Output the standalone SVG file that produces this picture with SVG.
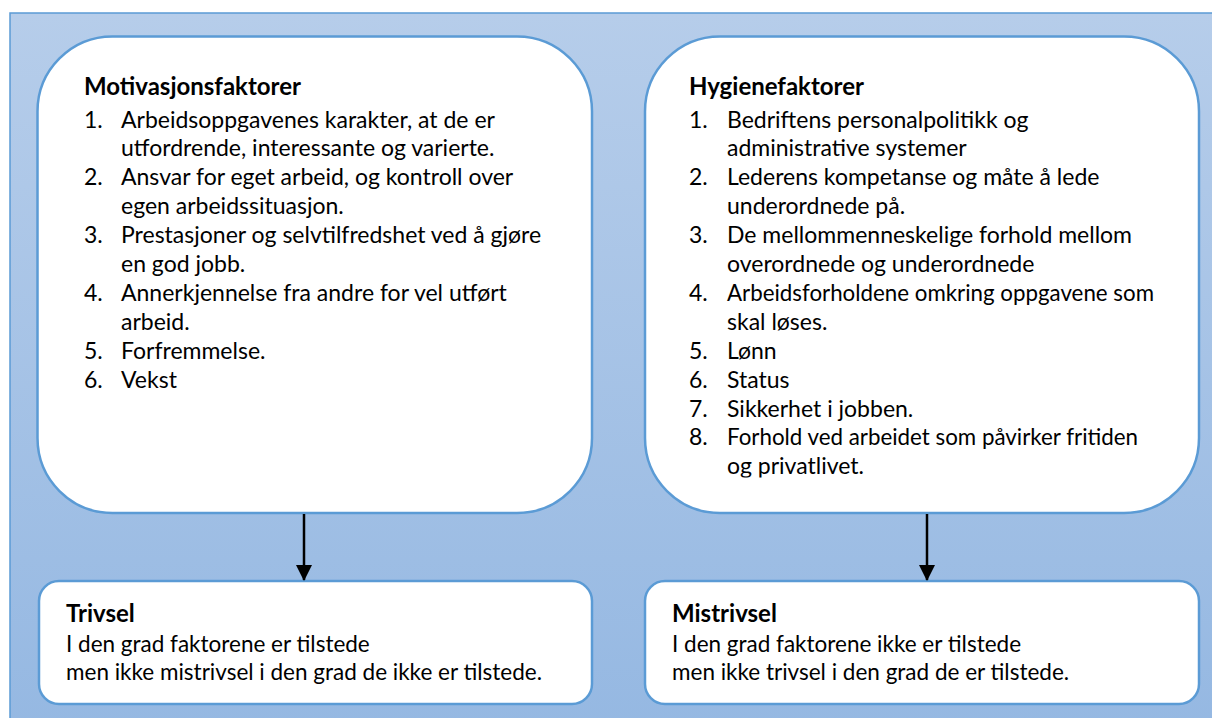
<svg xmlns="http://www.w3.org/2000/svg" width="1212" height="718" viewBox="0 0 1212 718">
  <defs>
    <linearGradient id="bgGrad" x1="0" y1="0" x2="0" y2="1">
      <stop offset="0" stop-color="#b6cdea"/>
      <stop offset="1" stop-color="#95b8e2"/>
    </linearGradient>
    <marker id="arrow" markerWidth="16" markerHeight="16" refX="15" refY="8" orient="auto" markerUnits="userSpaceOnUse">
      <path d="M0,0 L16,8 L0,16 Z" fill="#000"/>
    </marker>
    <clipPath id="rightClip">
      <rect x="645" y="36" width="554" height="441.5"/>
    </clipPath>
  </defs>
  <style>
    .box { fill: #ffffff; stroke: #5b9bd5; stroke-width: 2.5; }
    .t { font-family: Lato, "Open Sans", sans-serif; font-size: 23px; fill: #000; }
    .h { font-weight: bold; font-size: 24px; }
    .s { font-size: 22.5px; }
    .conn { stroke: #000; stroke-width: 2.5; fill: none; }
  </style>

  <!-- backdrop panel -->
  <rect x="10" y="13" width="1220" height="720" fill="url(#bgGrad)" stroke="#5b9bd5" stroke-width="1.5"/>

  <!-- motivation factors -->
  <g id="motivasjon">
    <rect class="box" x="37.5" y="36.5" width="554.5" height="476.5" rx="75" ry="75"/>
    <text class="t h" x="84" y="95">Motivasjonsfaktorer</text>
    <g class="t">
      <text x="84" y="127.5">1.</text><text x="121" y="127.5">Arbeidsoppgavenes karakter, at de er</text>
      <text x="121" y="156.4">utfordrende, interessante og varierte.</text>
      <text x="84" y="185.3">2.</text><text x="121" y="185.3">Ansvar for eget arbeid, og kontroll over</text>
      <text x="121" y="214.2">egen arbeidssituasjon.</text>
      <text x="84" y="243.1">3.</text><text x="121" y="243.1">Prestasjoner og selvtilfredshet ved å gjøre</text>
      <text x="121" y="272">en god jobb.</text>
      <text x="84" y="300.9">4.</text><text x="121" y="300.9">Annerkjennelse fra andre for vel utført</text>
      <text x="121" y="329.8">arbeid.</text>
      <text x="84" y="358.7">5.</text><text x="121" y="358.7">Forfremmelse.</text>
      <text x="84" y="387.6">6.</text><text x="121" y="387.6">Vekst</text>
    </g>
  </g>

  <!-- hygiene factors -->
  <g id="hygiene">
    <rect class="box" x="645" y="36.5" width="554" height="476.5" rx="75" ry="75"/>
    <g clip-path="url(#rightClip)">
      <text class="t h" x="689" y="95">Hygienefaktorer</text>
      <g class="t">
        <text x="689" y="127.5">1.</text><text x="727" y="127.5">Bedriftens personalpolitikk og</text>
        <text x="727" y="156.4">administrative systemer</text>
        <text x="689" y="185.3">2.</text><text x="727" y="185.3">Lederens kompetanse og måte å lede</text>
        <text x="727" y="214.2">underordnede på.</text>
        <text x="689" y="243.1">3.</text><text x="727" y="243.1">De mellommenneskelige forhold mellom</text>
        <text x="727" y="272">overordnede og underordnede</text>
        <text x="689" y="300.9">4.</text><text x="727" y="300.9" textLength="427" lengthAdjust="spacingAndGlyphs">Arbeidsforholdene omkring oppgavene som</text>
        <text x="727" y="329.8">skal løses.</text>
        <text x="689" y="358.7">5.</text><text x="727" y="358.7">Lønn</text>
        <text x="689" y="387.6">6.</text><text x="727" y="387.6">Status</text>
        <text x="689" y="416.5">7.</text><text x="727" y="416.5">Sikkerhet i jobben.</text>
        <text x="689" y="445.4">8.</text><text x="727" y="445.4" textLength="411" lengthAdjust="spacingAndGlyphs">Forhold ved arbeidet som påvirker fritiden</text>
        <text x="727" y="474.3">og privatlivet.</text>
      </g>
    </g>
  </g>

  <!-- outcome: well-being -->
  <g id="trivsel">
    <rect class="box" x="39" y="581" width="553" height="123" rx="20" ry="20"/>
    <text class="t h" x="66" y="622">Trivsel</text>
    <text class="t s" x="66" y="652">I den grad faktorene er tilstede</text>
    <text class="t s" x="66" y="680">men ikke mistrivsel i den grad de ikke er tilstede.</text>
  </g>

  <!-- outcome: dissatisfaction -->
  <g id="mistrivsel">
    <rect class="box" x="645" y="581" width="554" height="123" rx="20" ry="20"/>
    <text class="t h" x="672" y="622">Mistrivsel</text>
    <text class="t s" x="672" y="652">I den grad faktorene ikke er tilstede</text>
    <text class="t s" x="672" y="680">men ikke trivsel i den grad de er tilstede.</text>
  </g>

  <!-- connectors -->
  <g id="connectors">
    <line class="conn" x1="304" y1="514" x2="304" y2="580" marker-end="url(#arrow)"/>
    <line class="conn" x1="927" y1="514" x2="927" y2="580" marker-end="url(#arrow)"/>
  </g>
</svg>
